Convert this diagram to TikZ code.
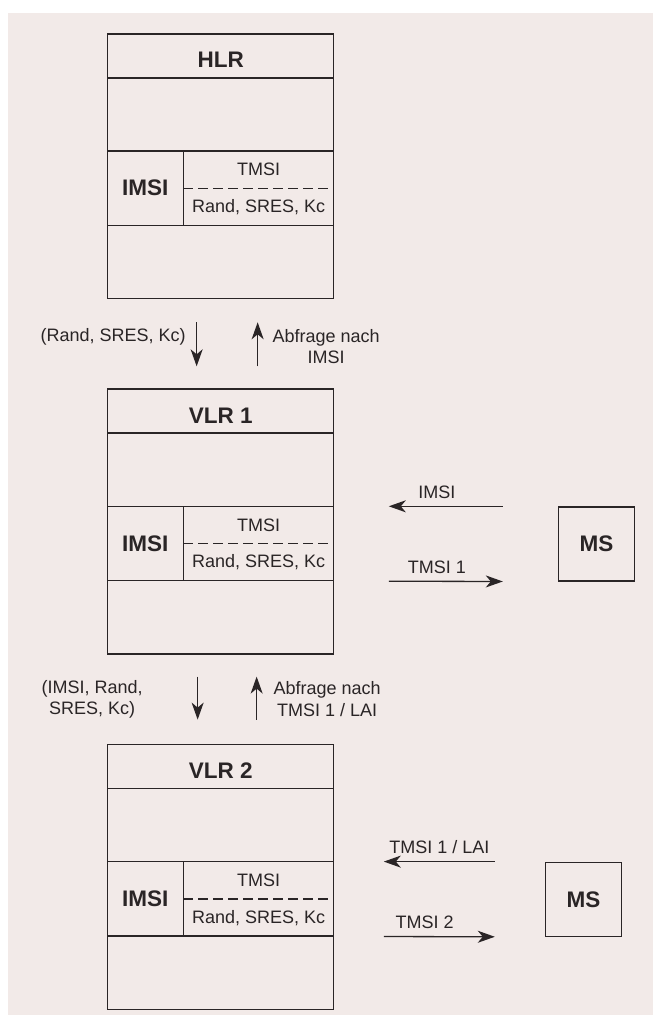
\documentclass[tikz,border=0pt]{standalone}
\usepackage{fontspec}
\setmainfont{Liberation Sans}
\usetikzlibrary{positioning,arrows.meta}
\definecolor{paper}{HTML}{F2EAE8}
\definecolor{ink}{HTML}{2A2526}

\begin{document}
\begin{tikzpicture}[
    x=1pt, y=-1pt,
    every node/.style={text=ink, font=\fontsize{18}{21.5}\selectfont},
    db/.style={rectangle, draw=ink, line width=1.3pt, minimum width=226pt, minimum height=265pt, inner sep=0pt},
    dbtitle/.style={rectangle, draw=ink, line width=1.6pt, minimum width=226pt, minimum height=44pt, inner sep=0pt, text height=24pt, text depth=0pt, font=\fontsize{22.5}{27}\selectfont\bfseries},
    dbkey/.style={rectangle, minimum width=76pt, minimum height=74pt, inner sep=0pt, font=\fontsize{22.5}{27}\selectfont\bfseries},
    dbval/.style={rectangle, minimum width=150pt, minimum height=37pt, inner sep=0pt},
    ms/.style={rectangle, draw=ink, line width=1.3pt, minimum width=76pt, minimum height=74pt, inner sep=0pt, font=\fontsize{22.5}{27}\selectfont\bfseries},
    msg/.style={draw=ink, line width=1.3pt, -{Stealth[length=17pt, width=12pt, inset=5pt]}}
]
    \useasboundingbox (0,0) rectangle (653,1015);
    \fill[paper] (8,13) rectangle (653,1015);

    % databases
    \node[db, anchor=north west] (hlr) at (107,33) {};
    \node[db, below=89pt of hlr] (vlr1) {};
    \node[db, below=89pt of vlr1] (vlr2) {};

    \foreach \db/\name in {hlr/HLR, vlr1/VLR 1, vlr2/VLR 2} {
        \node[dbtitle, anchor=north] (\db-title) at (\db.north) {\name};
        \node[dbkey, anchor=north west] (\db-key) at ([yshift=-118pt]\db.north west) {IMSI};
        \node[dbval, anchor=north west] (\db-tmsi) at (\db-key.north east) {TMSI};
        \node[dbval, below=0pt of \db-tmsi] (\db-rand) {Rand, SRES, Kc};
        \draw[ink, line width=1.1pt] (\db.west |- \db-key.north) -- (\db.east |- \db-key.north)
            (\db.west |- \db-key.south) -- (\db.east |- \db-key.south)
            (\db-key.north east) -- (\db-key.south east);
        \draw[ink, line width=1.1pt, dash pattern=on 10pt off 5pt] (\db-tmsi.south west) -- (\db.east |- \db-tmsi.south);
    }

    % mobile stations
    \node[ms, right=224pt of vlr1-tmsi.north east, anchor=north west] (ms1) {MS};
    \node[ms, right=211pt of vlr2-tmsi.north east, anchor=north west] (ms2) {MS};

    % HLR <-> VLR 1
    \draw[msg, shorten <=23pt, shorten >=22pt] ([xshift=-24pt]hlr.south) -- ([xshift=-24pt]vlr1.north)
        node[left=7pt, pos=0.42] {(Rand, SRES, Kc)};
    \draw[msg, shorten <=22pt, shorten >=23pt] ([xshift=37pt]vlr1.north) -- ([xshift=37pt]hlr.south)
        node[right=11pt, pos=0.47, align=center] {Abfrage nach\\IMSI};

    % VLR 1 <-> VLR 2
    \draw[msg, shorten <=22pt, shorten >=24pt] ([xshift=-23pt]vlr1.south) -- ([xshift=-23pt]vlr2.north)
        node[left=51pt, pos=0.5, align=center] {(IMSI, Rand,\\SRES, Kc)};
    \draw[msg, shorten <=24pt, shorten >=22pt] ([xshift=36pt]vlr2.north) -- ([xshift=36pt]vlr1.south)
        node[right=13pt, pos=0.5, align=center] {Abfrage nach\\TMSI 1 / LAI};

    % MS <-> VLR
    \draw[msg, shorten <=55pt, shorten >=55pt] (ms1.north west) -- (vlr1-tmsi.north east)
        node[above=4pt, pos=0.54] {IMSI};
    \draw[msg, shorten <=55pt, shorten >=55pt] (vlr1-rand.south east) -- (ms1.south west)
        node[above=4pt, pos=0.46] {TMSI 1};
    \draw[msg, shorten <=50pt, shorten >=50pt] (ms2.north west) -- (vlr2-tmsi.north east)
        node[above=4pt, pos=0.5] {TMSI 1 / LAI};
    \draw[msg, shorten <=50pt, shorten >=50pt] (vlr2-rand.south east) -- (ms2.south west)
        node[above=4pt, pos=0.43] {TMSI 2};
\end{tikzpicture}
\end{document}
